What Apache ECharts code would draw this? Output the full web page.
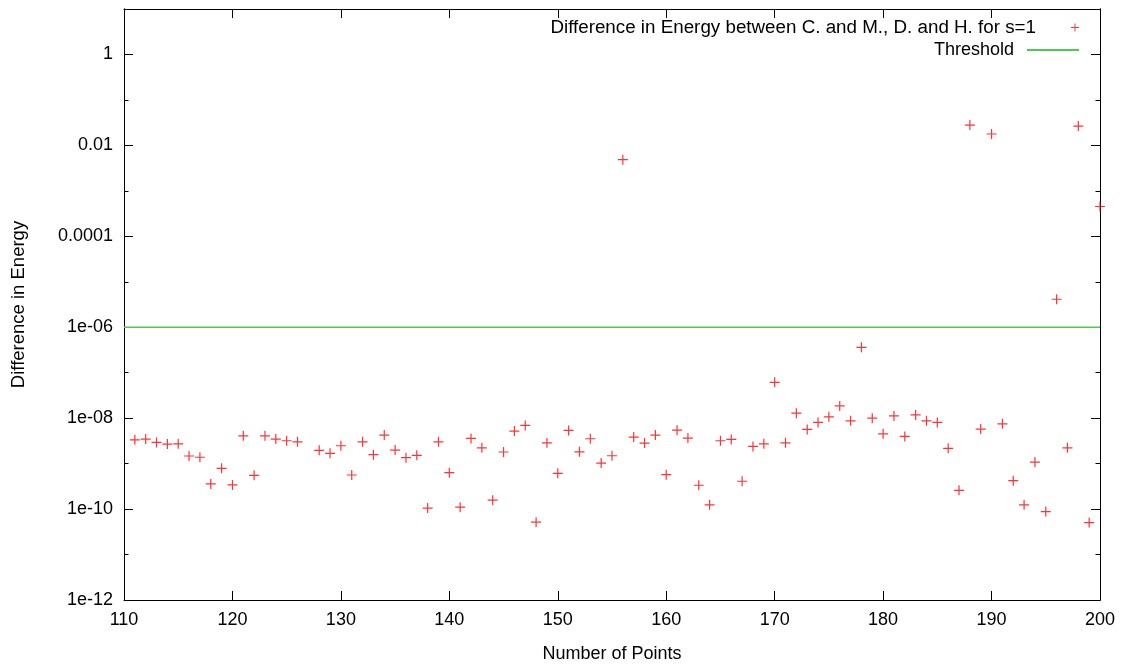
<!DOCTYPE html>
<html>
<head>
<meta charset="utf-8">
<script src="https://cdn.jsdelivr.net/npm/echarts@6/dist/echarts.min.js"></script>
<style>
html,body{margin:0;padding:0;background:#fff;}
#chart{width:1128px;height:668px;}
</style>
</head>
<body>
<div id="chart"></div>
<script>
// ---- data ----
const seriesName = 'Difference in Energy between C. and M., D. and H. for s=1';
const thresholdName = 'Threshold';
const numberOfPoints = [
  111,112,113,114,115,116,117,118,119,120,
  121,122,123,124,125,126,128,129,130,
  131,132,133,134,135,136,137,138,139,140,
  141,142,143,144,145,146,147,148,149,150,
  151,152,153,154,155,156,157,158,159,160,
  161,162,163,164,165,166,167,168,169,170,
  171,172,173,174,175,176,177,178,179,180,
  181,182,183,184,185,186,187,188,189,190,
  191,192,193,194,195,196,197,198,199,200
];
const energyDifference = [
  3.34e-9,3.46e-9,2.93e-9,2.69e-9,2.73e-9,1.47e-9,1.38e-9,3.57e-10,7.89e-10,3.40e-10,
  4.09e-9,5.53e-10,4.09e-9,3.46e-9,3.18e-9,3.02e-9,1.96e-9,1.68e-9,2.47e-9,
  5.62e-10,3.02e-9,1.57e-9,4.24e-9,1.99e-9,1.35e-9,1.52e-9,1.05e-10,3.02e-9,6.31e-10,
  1.10e-10,3.59e-9,2.23e-9,1.57e-10,1.80e-9,5.19e-9,6.92e-9,5.16e-11,2.87e-9,6.12e-10,
  5.37e-9,1.82e-9,3.52e-9,1.03e-9,1.49e-9,4.85e-3,3.83e-9,2.83e-9,4.24e-9,5.71e-10,
  5.45e-9,3.64e-9,3.34e-10,1.24e-10,3.18e-9,3.41e-9,4.09e-10,2.39e-9,2.73e-9,6.15e-8,
  2.87e-9,1.29e-8,5.65e-9,8.05e-9,1.07e-8,1.86e-8,8.73e-9,3.61e-7,1.0e-8,4.53e-9,
  1.12e-8,3.97e-9,1.18e-8,8.73e-9,8.05e-9,2.17e-9,2.59e-10,2.80e-2,5.74e-9,1.78e-2,
  7.50e-9,4.22e-10,1.24e-10,1.08e-9,8.81e-11,4.13e-6,2.23e-9,2.66e-2,5.06e-11,4.53e-4
];
const thresholdValue = 1e-6;
const xRange = [110, 200];
const xTickStep = 10;
// y axis is drawn in decades (log10 of the value)
const yDecadeRange = [-12, 1];
const yTickExponents = [-12, -10, -8, -6, -4, -2, 0];
const yTickLabels = ['1e-12', '1e-10', '1e-08', '1e-06', '0.0001', '0.01', '1'];

// ---- build options ----
const FONT = 'Liberation Sans, Arial, Helvetica, sans-serif';
const scatterData = numberOfPoints.map((x, i) => [x, Math.log10(energyDifference[i])]);
const thresholdData = xRange.map(x => [x, Math.log10(thresholdValue)]);
const plusPath = 'path://M4.4,0H5.6V10H4.4ZM0,4.4H10V5.6H0Z';

function yLabel(v) {
  const i = yTickExponents.indexOf(Math.round(v));
  return (i >= 0 && Math.abs(v - Math.round(v)) < 1e-9) ? yTickLabels[i] : '';
}

const axisLineStyle = { show: true, onZero: false, lineStyle: { color: '#000', width: 1 } };

function xAxisDef(pos, withLabels) {
  return {
    type: 'value', position: pos, min: xRange[0], max: xRange[1], interval: xTickStep,
    axisLine: axisLineStyle,
    axisTick: { show: true, inside: true, length: 9, lineStyle: { color: '#000' } },
    axisLabel: withLabels ? { show: true, color: '#000', fontSize: 18, fontFamily: FONT, margin: 11 } : { show: false },
    splitLine: { show: false },
    name: withLabels ? 'Number of Points' : '',
    nameLocation: 'middle', nameGap: 45,
    nameTextStyle: { color: '#000', fontSize: 18, fontFamily: FONT }
  };
}
function yAxisDef(pos, step, tickLen, withLabels) {
  return {
    type: 'value', position: pos, min: yDecadeRange[0], max: yDecadeRange[1], interval: step,
    axisLine: axisLineStyle,
    axisTick: { show: true, inside: true, length: tickLen, lineStyle: { color: '#000' } },
    axisLabel: withLabels ? { show: true, color: '#000', fontSize: 18, fontFamily: FONT, margin: 11, formatter: yLabel } : { show: false },
    splitLine: { show: false },
    name: withLabels ? 'Difference in Energy' : '',
    nameLocation: 'middle', nameGap: 96,
    nameTextStyle: { color: '#000', fontSize: 18.5, fontFamily: FONT }
  };
}

const option = {
  animation: false,
  backgroundColor: '#fff',
  textStyle: { fontFamily: FONT },
  grid: { left: 124, right: 28, top: 9, bottom: 65, containLabel: false },
  legend: [
    {
      data: [{ name: seriesName, icon: plusPath }],
      right: 49, top: 18, padding: 0, align: 'right', orient: 'vertical',
      itemWidth: 52, itemHeight: 8, selectedMode: false,
      textStyle: { color: '#000', fontSize: 18.8, fontFamily: FONT, padding: [0, 8, 0, 0] }
    },
    {
      data: [{ name: thresholdName, icon: 'path://M0,0H52V2H0Z' }],
      right: 49, top: 41, padding: 0, align: 'right', orient: 'vertical',
      itemWidth: 52, itemHeight: 2, selectedMode: false,
      textStyle: { color: '#000', fontSize: 18, fontFamily: FONT, padding: [0, 8, 0, 0] }
    }
  ],
  xAxis: [xAxisDef('bottom', true), xAxisDef('top', false)],
  yAxis: [
    yAxisDef('left', 2, 9, true),
    yAxisDef('right', 2, 9, false),
    yAxisDef('left', 1, 4.5, false),
    yAxisDef('right', 1, 4.5, false)
  ],
  series: [
    {
      name: seriesName, type: 'scatter', xAxisIndex: 0, yAxisIndex: 0,
      data: scatterData, symbol: plusPath, symbolSize: 10, symbolKeepAspect: true,
      itemStyle: { color: '#ff0000' }, clip: false, z: 3
    },
    {
      name: thresholdName, type: 'line', xAxisIndex: 0, yAxisIndex: 0,
      data: thresholdData, symbol: 'none',
      lineStyle: { color: '#4fc94f', width: 1.6 }, itemStyle: { color: '#4fc94f' }, z: 2
    }
  ]
};

const chart = echarts.init(document.getElementById('chart'), null, { renderer: 'canvas' });
chart.setOption(option);
</script>
</body>
</html>
